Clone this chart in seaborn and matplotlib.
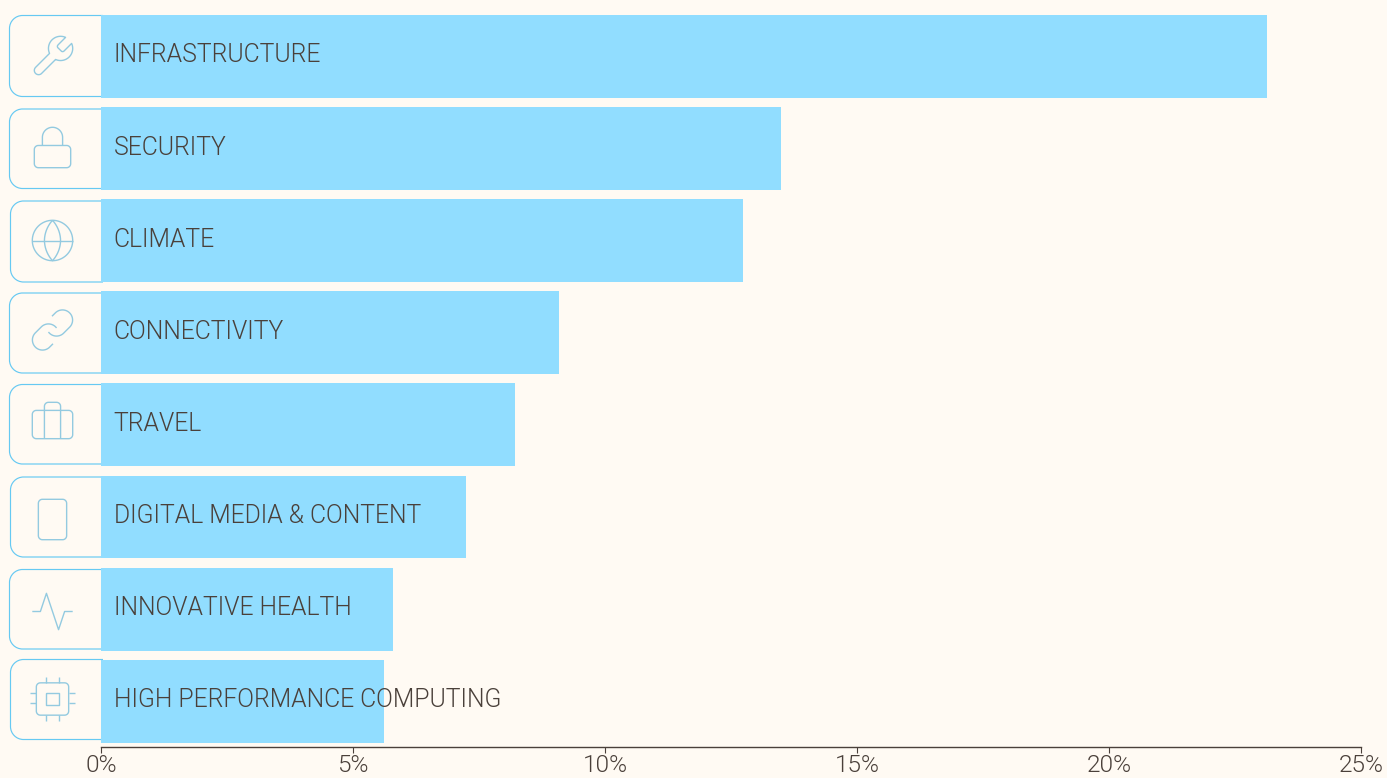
import math
import re

import matplotlib
matplotlib.use("Agg")
import matplotlib.pyplot as plt
import pandas as pd
import seaborn as sns
from matplotlib.patches import PathPatch
from matplotlib.path import Path
from matplotlib.transforms import Affine2D

# Chart values
categories = [
    "INFRASTRUCTURE", "SECURITY", "CLIMATE", "CONNECTIVITY", "TRAVEL",
    "DIGITAL MEDIA & CONTENT", "INNOVATIVE HEALTH", "HIGH PERFORMANCE COMPUTING",
]
shares = [23.13, 13.5, 12.74, 9.08, 8.21, 7.24, 5.79, 5.61]
x_ticks = [0, 5, 10, 15, 20, 25]
x_tick_labels = ["0%", "5%", "10%", "15%", "20%", "25%"]

# Line icons on a 24-unit grid, one per category
icon_paths = [
    ["M14.7 6.3a1 1 0 0 0 0 1.4l1.6 1.6a1 1 0 0 0 1.4 0l3.77-3.77a6 6 0 0 1-7.94 7.94l-6.91 6.91a2.12 2.12 0 0 1-3-3l6.91-6.91a6 6 0 0 1 7.94-7.94l-3.76 3.76z"],
    ["M5 11h14a2 2 0 0 1 2 2v7a2 2 0 0 1-2 2H5a2 2 0 0 1-2-2v-7a2 2 0 0 1 2-2z", "M7 11V7a5 5 0 0 1 10 0v4"],
    ["M22 12a10 10 0 0 1-20 0a10 10 0 0 1 20 0z", "M2 12L22 12", "M12 2a15.3 15.3 0 0 1 4 10 15.3 15.3 0 0 1-4 10 15.3 15.3 0 0 1-4-10 15.3 15.3 0 0 1 4-10z"],
    ["M10 13a5 5 0 0 0 7.54.54l3-3a5 5 0 0 0-7.07-7.07l-1.72 1.71", "M14 11a5 5 0 0 0-7.54-.54l-3 3a5 5 0 0 0 7.07 7.07l1.71-1.71"],
    ["M4 7h16a2 2 0 0 1 2 2v10a2 2 0 0 1-2 2H4a2 2 0 0 1-2-2V9a2 2 0 0 1 2-2z", "M16 21V5a2 2 0 0 0-2-2h-4a2 2 0 0 0-2 2v16"],
    ["M7 2h10a2 2 0 0 1 2 2v16a2 2 0 0 1-2 2H7a2 2 0 0 1-2-2V4a2 2 0 0 1 2-2z", "M12 18L12.1 18"],
    ["M2 12L6 12L9 3L15 21L18 12L22 12"],
    ["M6 4h12a2 2 0 0 1 2 2v12a2 2 0 0 1-2 2H6a2 2 0 0 1-2-2V6a2 2 0 0 1 2-2z", "M9 9h6v6H9z",
     "M9 1L9 4", "M15 1L15 4", "M9 20L9 23", "M15 20L15 23",
     "M20 9L23 9", "M20 14L23 14", "M1 9L4 9", "M1 14L4 14"],
]

# Placement of the icon cards, in pixels from the top-left of the figure
icon_centres = [56.5, 147.5, 240.5, 330, 420.5, 519.5, 611.5, 699]
card_lefts = [9.5, 9.5, 10.5, 9.5, 9.5, 10.5, 9.5, 10.5]
card_tops = [15.5, 109, 201, 293, 384.5, 477, 569.5, 659.5]
card_bottoms = [96.5, 188.5, 282, 373, 464, 557, 649, 739.5]

BG = "#FFFAF3"
BAR = "#91DDFF"
INK = "#4A403A"
CARD = "#66C9F2"
ICON = "#93CAE0"
FW, FH = 1387, 778


def arc_points(x0, y0, rx, ry, large, sweep, x1, y1):
    """Sample an SVG circular arc as a list of points after the start."""
    dx, dy = (x0 - x1) / 2, (y0 - y1) / 2
    d2 = dx * dx + dy * dy
    r = max(rx, math.sqrt(d2))
    f = math.sqrt(max(0.0, r * r - d2) / d2) if d2 else 0.0
    if bool(large) == bool(sweep):
        f = -f
    cx = f * dy + (x0 + x1) / 2
    cy = -f * dx + (y0 + y1) / 2
    a0 = math.atan2(y0 - cy, x0 - cx)
    a1 = math.atan2(y1 - cy, x1 - cx)
    if sweep and a1 < a0:
        a1 += 2 * math.pi
    if not sweep and a1 > a0:
        a1 -= 2 * math.pi
    n = max(4, int(abs(a1 - a0) * r * 4))
    return [(cx + r * math.cos(a0 + (a1 - a0) * i / n),
             cy + r * math.sin(a0 + (a1 - a0) * i / n)) for i in range(1, n + 1)]


def svg_to_path(d):
    """Convert the subset of SVG path syntax used by the icons."""
    tokens = re.findall(r"[MmLlHhVvAaZz]|-?\d*\.?\d+", d)
    verts, codes = [], []
    i, x, y, sx, sy, cmd = 0, 0.0, 0.0, 0.0, 0.0, None

    def num():
        nonlocal i
        v = float(tokens[i])
        i += 1
        return v

    while i < len(tokens):
        if tokens[i].isalpha():
            cmd = tokens[i]
            i += 1
        rel = cmd.islower()
        c = cmd.upper()
        if c == "Z":
            verts.append((sx, sy))
            codes.append(Path.LINETO)
            x, y = sx, sy
            continue
        if c == "M":
            a, b = num(), num()
            x, y = (x + a, y + b) if rel else (a, b)
            sx, sy = x, y
            verts.append((x, y))
            codes.append(Path.MOVETO)
            cmd = "l" if rel else "L"
        elif c == "L":
            a, b = num(), num()
            x, y = (x + a, y + b) if rel else (a, b)
            verts.append((x, y))
            codes.append(Path.LINETO)
        elif c == "H":
            a = num()
            x = x + a if rel else a
            verts.append((x, y))
            codes.append(Path.LINETO)
        elif c == "V":
            a = num()
            y = y + a if rel else a
            verts.append((x, y))
            codes.append(Path.LINETO)
        elif c == "A":
            rx, ry, _, large, sweep = num(), num(), num(), num(), num()
            a, b = num(), num()
            ex, ey = (x + a, y + b) if rel else (a, b)
            for p in arc_points(x, y, rx, ry, large, sweep, ex, ey):
                verts.append(p)
                codes.append(Path.LINETO)
            x, y = ex, ey
    return Path(verts, codes)


def open_card(left, top, right, bottom, r):
    """Rounded outline whose right side stays open behind the bar."""
    k = 0.5523 * r
    return Path(
        [(right, top), (left + r, top),
         (left + r - k, top), (left, top + r - k), (left, top + r),
         (left, bottom - r),
         (left, bottom - r + k), (left + r - k, bottom), (left + r, bottom),
         (right, bottom)],
        [Path.MOVETO, Path.LINETO, Path.CURVE4, Path.CURVE4, Path.CURVE4,
         Path.LINETO, Path.CURVE4, Path.CURVE4, Path.CURVE4, Path.LINETO],
    )


sns.set_theme(style="white")
plt.rcParams["font.family"] = ["Roboto", "DejaVu Sans"]
plt.rcParams["font.weight"] = 300

fig = plt.figure(figsize=(FW / 100, FH / 100), dpi=100, facecolor=BG)
ax = fig.add_axes([101 / FW, 1 - 747.2 / FH, 1260 / FW, 736.7 / FH], facecolor="none")

frame = pd.DataFrame({"category": categories, "share": shares})
sns.barplot(data=frame, x="share", y="category", color=BAR, saturation=1,
            width=0.9, ax=ax, zorder=3, linewidth=0, edgecolor="none")

ax.set_xlim(0, 25)
ax.set_ylim(7.5, -0.5)
ax.set_xlabel("")
ax.set_ylabel("")
ax.set_yticks([])
ax.set_xticks(x_ticks)
ax.set_xticklabels(x_tick_labels, fontsize=17.6, color=INK, fontweight=300)
ax.tick_params(axis="x", length=4.5, width=0.8, color=INK, pad=0.2, bottom=True)
for side in ("top", "right", "left"):
    ax.spines[side].set_visible(False)
ax.spines["bottom"].set_color(INK)
ax.spines["bottom"].set_linewidth(1.0)

# Category names sit on the bars, starting a fixed distance from the axis
label_tf = ax.get_yaxis_transform()
for i, name in enumerate(categories):
    ax.annotate(name, xy=(0, i), xycoords=label_tf, xytext=(9.2, 0.8),
                textcoords="offset points", va="center", ha="left",
                fontsize=17.8, color=INK, fontweight=300, zorder=5,
                annotation_clip=False)

# Pixel space, origin at the top-left of the figure
px = Affine2D().scale(1 / FW, -1 / FH).translate(0, 1) + fig.transFigure

for left, top, bottom in zip(card_lefts, card_tops, card_bottoms):
    fig.add_artist(PathPatch(open_card(left, top, 103, bottom, 13), fill=False,
                             edgecolor=CARD, linewidth=0.85, transform=px, zorder=0))

scale = 2.02
for parts, cy in zip(icon_paths, icon_centres):
    tf = Affine2D().translate(-12, -12).scale(scale).translate(52.5, cy) + px
    for d in parts:
        fig.add_artist(PathPatch(svg_to_path(d), fill=False, edgecolor=ICON,
                                 linewidth=1.0, capstyle="butt", joinstyle="round",
                                 transform=tf, zorder=1))

fig.savefig("out.png", dpi=100, facecolor=BG)
